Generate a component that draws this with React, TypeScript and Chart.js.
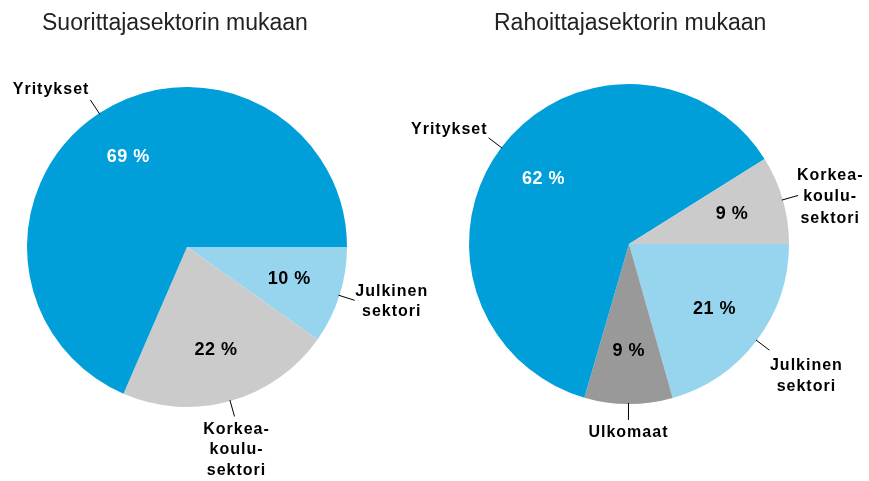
import React, { useEffect, useRef } from "react";
import { Chart, registerables } from "chart.js";

Chart.register(...registerables);

// ---- Data ----
const leftTitle = "Suorittajasektorin mukaan";
const leftNames = [["Julkinen", "sektori"], ["Korkea-", "koulu-", "sektori"], ["Yritykset"]];
const leftShares = [9.8, 21.7, 68.5];
const leftPct = ["10 %", "22 %", "69 %"];

const rightTitle = "Rahoittajasektorin mukaan";
const rightNames = [["Julkinen", "sektori"], ["Ulkomaat"], ["Yritykset"], ["Korkea-", "koulu-", "sektori"]];
const rightShares = [20.6, 8.9, 61.6, 8.9];
const rightPct = ["21 %", "9 %", "62 %", "9 %"];

// ---- Styles ----
const BLUE = "#009fda";
const LIGHT_BLUE = "#97d5ef";
const LIGHT_GREY = "#cbcbcb";
const DARK_GREY = "#999999";

const leftColors = [LIGHT_BLUE, LIGHT_GREY, BLUE];
const leftPctColors = ["#000", "#000", "#fff"];
const leftLabelLayout = [
  { align: "center", dx: 37, dy: -9 },
  { align: "center", dx: 2, dy: 13 },
  { align: "right", dx: -1, dy: -10 },
];

const rightColors = [LIGHT_BLUE, DARK_GREY, BLUE, LIGHT_GREY];
const rightPctColors = ["#000", "#000", "#fff", "#000"];
const rightLabelLayout = [
  { align: "center", dx: 37, dy: 15 },
  { align: "center", dx: 0, dy: 13 },
  { align: "right", dx: -1, dy: -8 },
  { align: "center", dx: 32, dy: -20 },
];

const W = 869;
const H = 481;

type PieProps = {
  padding: { left: number; right: number; top: number; bottom: number };
  title: string;
  titleX: number;
  names: string[][];
  shares: number[];
  pct: string[];
  colors: string[];
  pctColors: string[];
  layout: { align: string; dx: number; dy: number }[];
  lineHeight: number;
};

function PieChart(p: PieProps) {
  const ref = useRef<HTMLCanvasElement | null>(null);
  useEffect(() => {
    if (!ref.current) return;
    const labelPlugin = {
      id: "pieLabels",
      afterDatasetsDraw(chart: any) {
        const ctx = chart.ctx as CanvasRenderingContext2D;
        ctx.save();
        // title
        ctx.fillStyle = "#222";
        ctx.font = '23px "Liberation Sans", Arial, sans-serif';
        ctx.textAlign = "left";
        ctx.textBaseline = "alphabetic";
        (ctx as any).letterSpacing = "0px";
        ctx.fillText(p.title, p.titleX, 30);

        const meta = chart.getDatasetMeta(0);
        meta.data.forEach((arc: any, i: number) => {
          const { x, y, startAngle, endAngle, outerRadius } = arc.getProps(
            ["x", "y", "startAngle", "endAngle", "outerRadius"],
            true
          );
          const mid = (startAngle + endAngle) / 2;
          const cx = Math.cos(mid);
          const cy = Math.sin(mid);
          // inner percentage
          const ir = outerRadius * 0.67;
          ctx.font = 'bold 18px "Liberation Sans", Arial, sans-serif';
          (ctx as any).letterSpacing = "0.5px";
          ctx.fillStyle = p.pctColors[i];
          ctx.textAlign = "center";
          ctx.textBaseline = "middle";
          ctx.fillText(p.pct[i], x + cx * ir, y + cy * ir);
          // leader line
          const r0 = outerRadius - 1;
          const r1 = outerRadius + 16;
          const ex = x + cx * r1;
          const ey = y + cy * r1;
          ctx.strokeStyle = "#000";
          ctx.lineWidth = 1;
          ctx.beginPath();
          ctx.moveTo(x + cx * r0, y + cy * r0);
          ctx.lineTo(ex, ey);
          ctx.stroke();
          // category label
          const lay = p.layout[i];
          ctx.font = 'bold 16px "Liberation Sans", Arial, sans-serif';
          (ctx as any).letterSpacing = "1px";
          ctx.fillStyle = "#000";
          ctx.textAlign = lay.align as CanvasTextAlign;
          ctx.textBaseline = "middle";
          p.names[i].forEach((line, li) => {
            ctx.fillText(line, ex + lay.dx, ey + lay.dy + li * p.lineHeight);
          });
        });
        ctx.restore();
      },
    };
    const chart = new Chart(ref.current, {
      type: "pie",
      data: {
        labels: p.names.map((n) => n.join(" ")),
        datasets: [
          {
            data: p.shares,
            backgroundColor: p.colors,
            borderWidth: 0,
            hoverOffset: 0,
            offset: 0,
          },
        ],
      },
      options: {
        responsive: false,
        animation: false,
        events: [],
        rotation: 90,
        layout: { padding: p.padding },
        plugins: {
          legend: { display: false },
          tooltip: { enabled: false },
          title: { display: false },
        },
      },
      plugins: [labelPlugin],
    });
    return () => chart.destroy();
  }, []);
  return (
    <canvas
      ref={ref}
      width={W}
      height={H}
      style={{ display: "block", position: "absolute", left: 0, top: 0 }}
    />
  );
}

export default function App() {
  return (
    <div
      style={{
        position: "fixed",
        left: 0,
        top: 0,
        width: W,
        height: H,
        background: "#fff",
        overflow: "hidden",
      }}
    >
      <PieChart
        padding={{ left: 27, right: W - 347, top: 87, bottom: H - 407 }}
        title={leftTitle}
        titleX={42}
        names={leftNames}
        shares={leftShares}
        pct={leftPct}
        colors={leftColors}
        pctColors={leftPctColors}
        layout={leftLabelLayout}
        lineHeight={20.5}
      />
      <PieChart
        padding={{ left: 469, right: W - 789, top: 84, bottom: H - 404 }}
        title={rightTitle}
        titleX={494}
        names={rightNames}
        shares={rightShares}
        pct={rightPct}
        colors={rightColors}
        pctColors={rightPctColors}
        layout={rightLabelLayout}
        lineHeight={21.5}
      />
    </div>
  );
}
